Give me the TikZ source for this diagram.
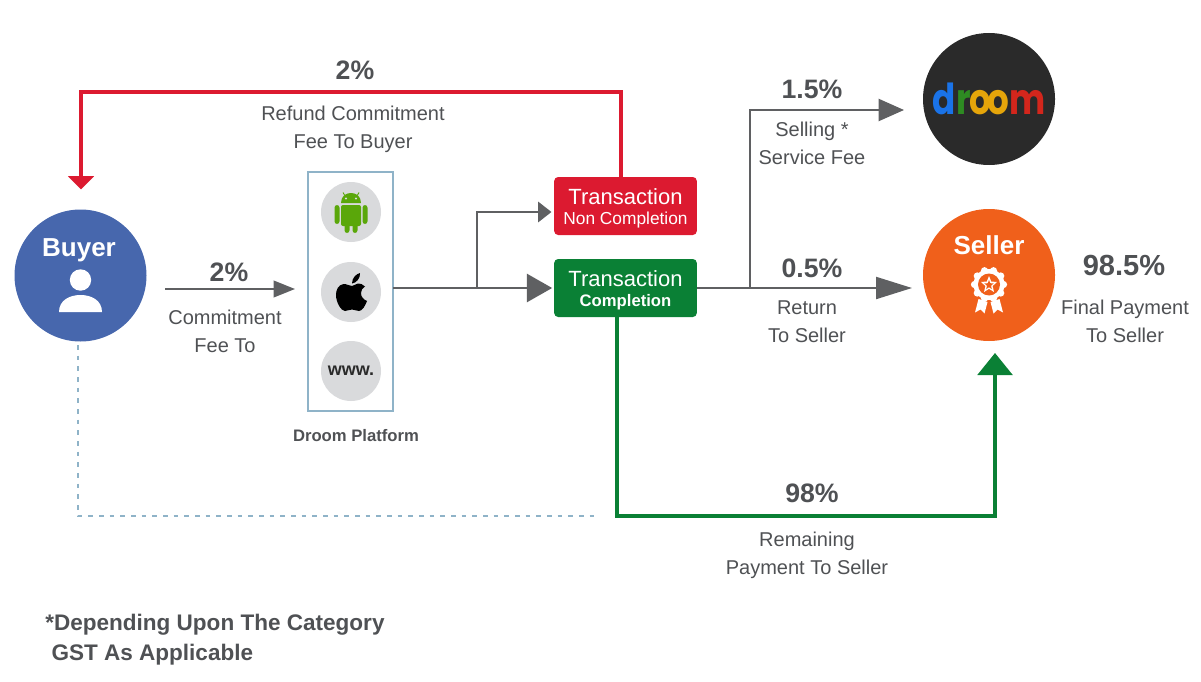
\documentclass[tikz,border=0pt]{standalone}
\usepackage{fontspec}
\usepackage{graphicx}
\usetikzlibrary{arrows.meta,calc}
\setmainfont{Liberation Sans}
\newfontfamily\logof{Poppins}
\definecolor{txt}{HTML}{4F5154}
\definecolor{arr}{HTML}{5F6062}
\definecolor{rd}{HTML}{DC1A30}
\definecolor{gn}{HTML}{0A8035}
\definecolor{bl}{HTML}{8FB3C8}
\definecolor{ic}{HTML}{D9DADC}
\definecolor{buy}{HTML}{4767AD}
\definecolor{sel}{HTML}{F0601B}
\definecolor{ink}{HTML}{2A2A2A}
\definecolor{and}{HTML}{5AA70A}
\tikzset{
 x=0.75pt,y=-0.75pt,
 lab/.style={text=txt,inner sep=0pt,align=center,font=\fontsize{15}{21}\selectfont},
 pct/.style={text=txt,inner sep=0pt,font=\bfseries\fontsize{20}{24}\selectfont},
 foot/.style={text=txt,inner sep=0pt,font=\bfseries\fontsize{16.9}{22.5}\selectfont,align=left},
 round/.style={circle,inner sep=0pt,outer sep=0pt,minimum size=99pt},
 icon/.style={circle,fill=ic,inner sep=0pt,minimum size=45pt},
 status/.style={rounded corners=3pt,inner sep=0pt,outer sep=0pt,minimum width=107pt,minimum height=43.5pt,text=white,align=center},
 conn/.style={color=arr,line width=2.2pt},
 thin conn/.style={color=arr,line width=1.6pt},
}
\begin{document}
\begin{tikzpicture}
\useasboundingbox (0,0) rectangle (1201,681);
% nodes
\node[round,fill=buy] (buyer) at (80.5,275.5) {};
\node[round,fill=ink] (droom) at (989,99) {};
\node[round,fill=sel] (seller) at (989,275) {};
\node[draw=bl,line width=1.9pt,inner sep=0pt,outer sep=0pt,minimum width=63.75pt,minimum height=179.25pt] (platform) at (350.5,291.5) {};
\node[icon] (android) at (351,212) {};
\node[icon] (apple) at (351,292) {};
\node[icon,text=ink,font=\bfseries\fontsize{13.5}{16}\selectfont] (www) at (351,371) {www.};
\node[status,fill=rd] (red) at (625.5,206) {\rule{0pt}{15.5pt}\fontsize{16.5}{18}\selectfont Transaction\\[3pt]\fontsize{13}{14}\selectfont Non Completion};
\node[status,fill=gn] (green) at (625.5,288) {\rule{0pt}{15.5pt}\fontsize{16.5}{18}\selectfont Transaction\\[3pt]\bfseries\fontsize{12.5}{14}\selectfont Completion};
\node[inner sep=0pt,text=white,font=\bfseries\fontsize{19.5}{22}\selectfont] (buyerlabel) at (79,250) {Buyer};
\node[inner sep=0pt,text=white,font=\bfseries\fontsize{19.5}{22}\selectfont] (sellerlabel) at (989,245) {Seller};
\node[inner sep=0pt,font=\logof\bfseries\fontsize{32}{32}\selectfont] (logo) at (989,99)
 {\scalebox{.8}[1]{\color[HTML]{1A73E8}d\kern0.5pt\color[HTML]{2E8B22}r\kern-1pt\color[HTML]{E5A50A}o\kern-4pt o\kern0.5pt\color[HTML]{D3261C}m}};
% labels
\node[pct] (p1) at (355,70) {2\%};
\node[lab] (l1) at (353,129) {Refund Commitment\\Fee To Buyer};
\node[pct] (p2) at (229,272) {2\%};
\node[lab] (l2) at (225,331) {Commitment\\Fee To};
\node[text=txt,inner sep=0pt,font=\bfseries\fontsize{12.5}{15}\selectfont] (l3) at (356,436) {Droom Platform};
\node[pct] (p3) at (812,89) {1.5\%};
\node[lab] (l4) at (812,143) {Selling *\\Service Fee};
\node[pct] (p4) at (812,268) {0.5\%};
\node[lab] (l5) at (807,321.5) {Return\\To Seller};
\node[pct,font=\bfseries\fontsize{21.8}{24}\selectfont] (p5) at (1124,265) {98.5\%};
\node[lab] (l6) at (1125,321) {Final Payment\\To Seller};
\node[pct] (p6) at (812,493) {98\%};
\node[lab] (l7) at (807,555) {Remaining\\Payment To Seller};
\node[foot,anchor=north west] (fn) at (45,614) {*Depending Upon The Category\\\ GST As Applicable};
% coordinates
\coordinate (j1) at (477,288);
\coordinate (j2) at (750,288);
\coordinate (c1) at (165,289);
\coordinate (c2) at (295,289);
\coordinate (r2) at (904,110);
\coordinate (e1) at (912,288);
\coordinate (g1) at (617,516);
\coordinate (d1) at (78,345);
\coordinate (d2) at (78,516);
\coordinate (d3) at (600,516);
% connectors
\draw[thin conn,line width=1.3pt,-{Triangle[length=16pt,width=12.5pt]}] (c1) -- (c2);
\draw[conn] (platform.east |- j1) -- (j1);
\draw[conn,shorten >=1.5pt,-{Triangle[length=19pt,width=21pt]}] (j1) -- (green.west);
\draw[conn,shorten >=2pt,-{Triangle[length=10pt,width=15pt]}] (j1) |- ($(red.west)+(0,6)$);
\draw[thin conn] (green.east) -- (j2);
\draw[thin conn,-{Triangle[length=27pt,width=16.5pt]}] (j2) -- (e1);
\draw[thin conn,-{Triangle[length=19pt,width=16.5pt]}] (j2) |- (r2);
\draw[color=rd,line width=2.6pt,-{Triangle[length=10pt,width=19pt]}] ($(red.north)+(-4.5,0)$) -- ++(0,-85) -| ($(buyer.north)+(0.5,-20)$);
\draw[color=gn,line width=2.6pt,-{Triangle[length=16.5pt,width=26pt]}] (g1 |- green.south) -- (g1) -| ($(seller.south)+(6,12)$);
\draw[color=bl,line width=1.5pt,dash pattern=on 3.5pt off 4.5pt] (d1) -- (d2) -- (d3);
% person icon
\fill[white] (80.5,280) circle[radius=10.7];
\fill[white] (59,312) .. controls (59,300) and (70,295) .. (80.5,295) .. controls (91,295) and (102,300) .. (102,312) -- cycle;
% android
\fill[and] (341,203) .. controls (341,196) and (346,193) .. (351,193) .. controls (356,193) and (361,196) .. (361,203) -- cycle;
\fill[and,rounded corners=1.5pt] (341,205) rectangle (361,226);
\fill[and,rounded corners=2pt] (334.5,205) rectangle (339.5,224);
\fill[and,rounded corners=2pt] (362.5,205) rectangle (367.5,224);
\fill[and,rounded corners=2pt] (344.5,222) rectangle (349.5,233);
\fill[and,rounded corners=2pt] (352.5,222) rectangle (357.5,233);
\draw[and,line width=0.7pt] (344.5,195) -- (343,192.5) (357.5,195) -- (359,192.5);
\fill[ic] (346,198.5) circle[radius=1.2] (356,198.5) circle[radius=1.2];
% apple
\fill[black] (352,286) .. controls (349,286) and (346,283.5) .. (343.5,284) .. controls (338,285) and (336,290) .. (336,295) .. controls (336,302) and (341,311) .. (345,311) .. controls (347.5,311) and (349,309.5) .. (352,309.5) .. controls (355,309.5) and (356,311) .. (359,311) .. controls (362.5,311) and (365.5,305) .. (367,301) .. controls (363,299.5) and (361,296.5) .. (361,293) .. controls (361,290) and (362.5,288) .. (365,286.5) .. controls (363,284) and (360,283.5) .. (358,283.5) .. controls (356,283.5) and (354,286) .. (352,286) -- cycle;
\fill[black] (352,283.5) .. controls (352,278) and (356,274) .. (360,273) .. controls (360.5,278) and (356.5,283) .. (352,283.5) -- cycle;
% rosette
\foreach \a in {0,36,...,324} \fill[white] ($(989,284.5)+(\a:14.5)$) circle[radius=3.6];
\fill[white] (989,284.5) circle[radius=15.5];
\fill[sel] (989,284.5) circle[radius=11];
\fill[white] (989,276) -- (991.2,281.5) -- (997,282) -- (992.6,286) -- (994,292) -- (989,288.8) -- (984,292) -- (985.4,286) -- (981,282) -- (986.8,281.5) -- cycle;
\fill[sel] (989,280) -- (990.2,283.2) -- (993.6,283.5) -- (991,285.7) -- (991.8,289.1) -- (989,287.2) -- (986.2,289.1) -- (987,285.7) -- (984.4,283.5) -- (987.8,283.2) -- cycle;
\fill[white] (978.5,299) -- (987.5,302) -- (984.5,313.5) -- (980.5,309.5) -- (975,312.5) -- cycle;
\fill[white] (999.5,299) -- (990.5,302) -- (993.5,313.5) -- (997.5,309.5) -- (1003,312.5) -- cycle;
\end{tikzpicture}
\end{document}
